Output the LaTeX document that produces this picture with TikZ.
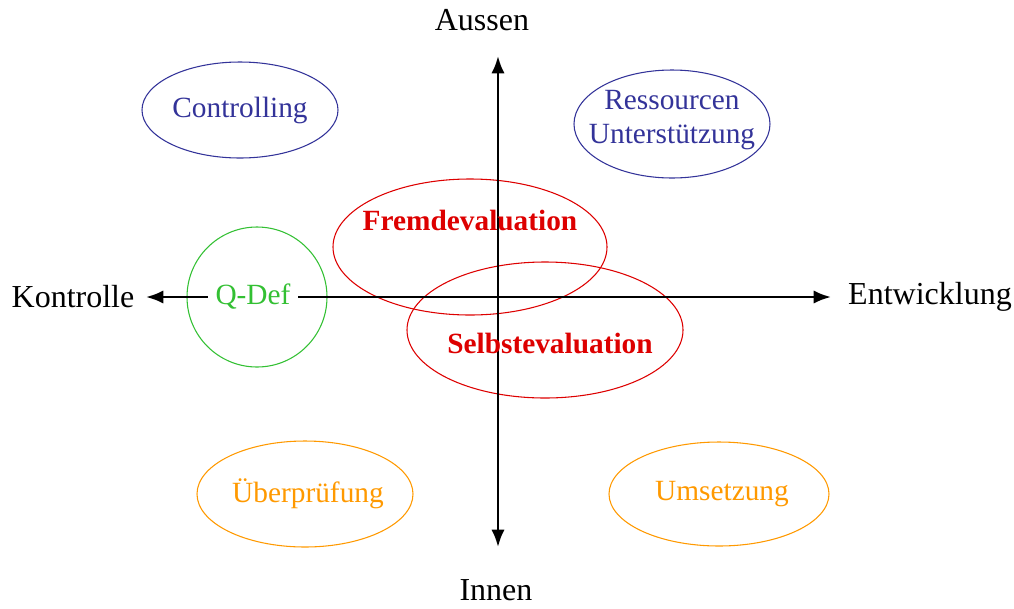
\documentclass[tikz,border=0pt]{standalone}
\usepackage{fontspec}
\setmainfont{Liberation Serif}
\usetikzlibrary{arrows.meta,shapes.geometric}
\definecolor{ctrlblue}{HTML}{333399}
\definecolor{evalred}{HTML}{DD0000}
\definecolor{qdefgreen}{HTML}{33C033}
\definecolor{actorange}{HTML}{FF9900}

\begin{document}
\begin{tikzpicture}[
  x=0.75pt, y=-0.75pt,
  axislabel/.style={font=\fontsize{24}{28}\selectfont, inner sep=0pt},
  bubble/.style={ellipse, draw, line width=0.8pt, inner sep=0pt},
  bubbletext/.style={font=\fontsize{22}{25}\selectfont, align=center, inner sep=0pt},
  axis/.style={{Latex[length=13pt,width=10pt]}-{Latex[length=13pt,width=10pt]}, line width=2pt}
]
\useasboundingbox (0,0) rectangle (1014,608);
% quadrant bubbles
\node[bubble, draw=ctrlblue, minimum width=0.75*196pt, minimum height=0.75*96pt] (controlling) at (240,110) {};
\node[bubbletext, text=ctrlblue] (controllingtext) at (240,110) {Controlling};
\node[bubble, draw=ctrlblue, minimum width=0.75*196pt, minimum height=0.75*108pt] (ressourcen) at (672,124) {};
\node[bubbletext, text=ctrlblue] (ressourcentext) at (672,120) {Ressourcen\\Unterstützung};
\node[bubble, draw=actorange, minimum width=0.75*216pt, minimum height=0.75*106pt] (ueberpruefung) at (305,494) {};
\node[bubbletext, text=actorange] (ueberpruefungtext) at (308,494) {Überprüfung};
\node[bubble, draw=actorange, minimum width=0.75*220pt, minimum height=0.75*104pt] (umsetzung) at (719,494) {};
\node[bubbletext, text=actorange] (umsetzungtext) at (722,494) {Umsetzung};
% evaluation bubbles
\node[bubble, draw=evalred, minimum width=0.75*274pt, minimum height=0.75*136pt] (fremd) at (470,247) {};
\node[bubble, draw=evalred, minimum width=0.75*276pt, minimum height=0.75*136pt] (selbst) at (545,330) {};
\node[bubble, draw=qdefgreen, minimum width=0.75*140pt, minimum height=0.75*140pt] (qdef) at (257,297) {};
% axes
\coordinate (top) at (498,56);
\coordinate (bottom) at (498,547);
\coordinate (left) at (146,297);
\coordinate (right) at (831,297);
\draw[axis] (bottom) -- (top);
\draw[axis] (left) -- (right);
\node[bubbletext, text=qdefgreen, fill=white, inner xsep=6pt, inner ysep=2pt] (qdeftext) at (253,297) {Q-Def};
\node[bubbletext, text=evalred, font=\fontsize{22}{25}\selectfont\bfseries] (fremdtext) at (470,220) {Fremdevaluation};
\node[bubbletext, text=evalred, font=\fontsize{22}{25}\selectfont\bfseries] (selbsttext) at (550,343) {Selbstevaluation};
% axis labels
\node[axislabel] (aussen) at (482,20) {Aussen};
\node[axislabel] (innen) at (496,590) {Innen};
\node[axislabel] (kontrolle) at (73,297) {Kontrolle};
\node[axislabel] (entwicklung) at (930,297) {Entwicklung};
\end{tikzpicture}
\end{document}
